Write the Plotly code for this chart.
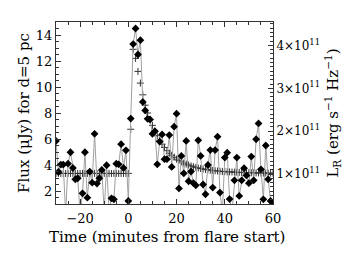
import plotly.graph_objects as go

# ---- data ----
time_min = list(range(-30, 61))

flux_obs = [
    5.85, 3.46, 4.03, 4.03, 0.3, 4.1, 4.98, 3.77, 2.9, 2.98,      # -30..-21
    0.3, 1.82, 4.98, 1.49, 3.49, 2.64, 6.4, 2.57, 2.98, 3.62,     # -20..-11
    0.4, 3.98, 0.5, 1.44, 1.36, 4.1, 4.05, 5.6, 3.77, 5.13,       # -10..-1
    1.23,                                                          # 0
    7.57, 13.3, 14.5, 12.5, 13.6, 8.85, 8.2, 7.55, 7.5, 6.4,      # 1..10
    6.6, 4.05, 5.8, 6.35, 4.45, 4.45, 6.3, 3.85, 6.95, 7.95,      # 11..20
    2.2, 4.7, 3.36, 5.85, 2.75, 3.5, 2.6, 2.44, 5.9, 4.7,         # 21..30
    2.5, 1.75, 4.0, 5.15, 2.26, 5.15, 6.18, 1.88, 0.4, 4.57,      # 31..40
    4.95, 1.38, 0.4, 2.82, 4.57, 1.62, 2.82, 3.75, 3.2, 2.6,      # 41..50
    4.65, 2.82, 5.98, 7.2, 3.67, 1.36, 5.5, 2.9, 1.23, 1.1,       # 51..60
]

flux_model = [3.35] * 31 + [
    6.75, 12.9, 12.2, 11.2, 10.3, 9.4, 8.6, 8.0, 7.5, 7.05,       # 1..10
    6.6, 6.25, 5.9, 5.6, 5.35, 5.1, 4.9, 4.75, 4.6, 4.45,         # 11..20
    4.35, 4.25, 4.15, 4.07, 4.0, 3.93, 3.87, 3.82, 3.77, 3.73,    # 21..30
    3.69, 3.66, 3.63, 3.6, 3.58, 3.56, 3.54, 3.52, 3.5, 3.49,     # 31..40
    3.48, 3.47, 3.46, 3.45, 3.44, 3.43, 3.42, 3.42, 3.41, 3.41,   # 41..50
    3.4, 3.4, 3.39, 3.39, 3.38, 3.38, 3.38, 3.37, 3.37, 3.37,     # 51..60
]

x_range = [-30, 60]
flux_range = [1, 15]
flux_per_1e11 = 3.3   # conversion flux -> L_R
lum_ticks = [1e11, 2e11, 3e11, 4e11]
lum_ticktext = ["1×10<sup>11</sup>", "2×10<sup>11</sup>", "3×10<sup>11</sup>", "4×10<sup>11</sup>"]

FONT = "DejaVu Serif"
AX = "#333333"

fig = go.Figure()
fig.add_trace(go.Scatter(
    x=time_min, y=flux_model, mode="markers",
    marker=dict(symbol="cross-thin", size=5, line=dict(width=1, color="#333333")),
    showlegend=False, cliponaxis=True,
))
fig.add_trace(go.Scatter(
    x=time_min, y=flux_obs, mode="lines+markers",
    line=dict(color="#a0a0a0", width=1),
    marker=dict(symbol="diamond", size=6, color="black"),
    showlegend=False, cliponaxis=True,
))
# dummy trace to activate the L_R axis
fig.add_trace(go.Scatter(x=[None], y=[None], yaxis="y2", showlegend=False, hoverinfo="skip"))

# The page body has an 8px default margin, so the figure is sized/placed to compensate.
fig.update_layout(
    width=343, height=239,
    margin=dict(l=48, r=71, t=14, b=43),
    paper_bgcolor="white", plot_bgcolor="white",
    font=dict(family=FONT, size=15, color="black"),
    xaxis=dict(
        range=x_range, showgrid=False, zeroline=False,
        showline=True, linecolor=AX, linewidth=1, mirror="ticks",
        ticks="inside", ticklen=5, tickcolor=AX, dtick=20, tick0=0,
        minor=dict(ticks="inside", ticklen=3, dtick=5, tickcolor=AX),
        tickfont=dict(size=13), ticklabelstandoff=2,
    ),
    yaxis=dict(
        range=flux_range, showgrid=False, zeroline=False,
        showline=True, linecolor=AX, linewidth=1, mirror=False,
        ticks="inside", ticklen=5, tickcolor=AX, dtick=2, tick0=0,
        minor=dict(ticks="inside", ticklen=3, dtick=0.5, tickcolor=AX),
        tickfont=dict(size=13), ticklabelstandoff=0,
        title=dict(text="Flux (μJy) for d=5 pc", standoff=2, font=dict(size=15)),
    ),
    yaxis2=dict(
        range=[flux_range[0] / flux_per_1e11 * 1e11, flux_range[1] / flux_per_1e11 * 1e11],
        overlaying="y", side="right", anchor="x",
        showgrid=False, zeroline=False,
        showline=True, linecolor=AX, linewidth=1,
        ticks="inside", ticklen=5, tickcolor=AX,
        tickvals=lum_ticks, ticktext=lum_ticktext,
        minor=dict(ticks="inside", ticklen=3, tickvals=[i * 1e10 for i in range(3, 46)], tickcolor=AX),
        tickfont=dict(size=12), ticklabelstandoff=0,
        title=dict(text="L<sub>R</sub> (erg s<sup>−1</sup> Hz<sup>−1</sup>)", standoff=8, font=dict(size=15)),
    ),
    annotations=[
        dict(text="Time (minutes from flare start)", xref="paper", yref="paper",
             x=0.51, y=-0.18, showarrow=False, xanchor="center", yanchor="middle",
             font=dict(size=15)),
    ],
)

fig.write_html("out.html")
